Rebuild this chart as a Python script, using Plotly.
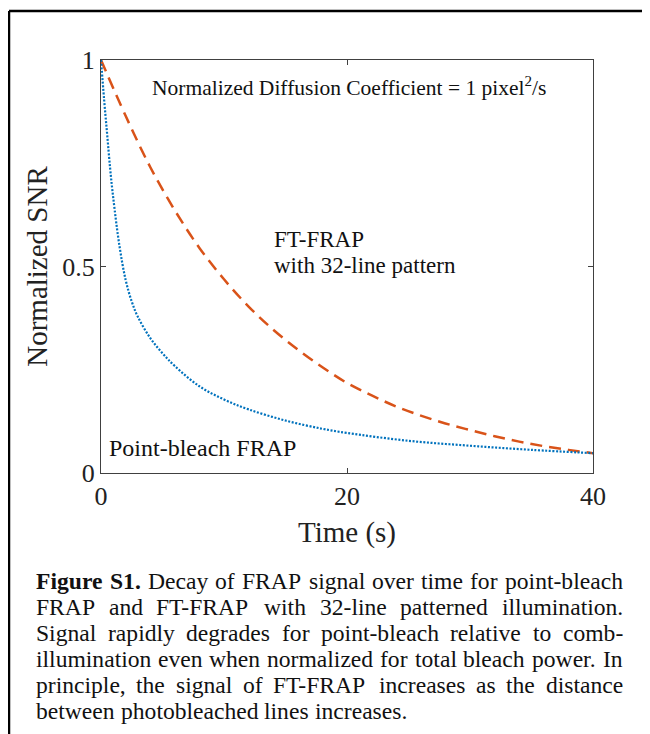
import plotly.graph_objects as go

# ---------------- data ----------------
t_point = [0, 0.25, 0.5, 0.75, 1.0, 1.5, 2, 2.5, 3, 4, 5, 6, 8, 10, 12, 15, 18, 20, 25, 30, 35, 40]
snr_point = [1.0, 0.905, 0.82, 0.735, 0.665, 0.55, 0.468, 0.415, 0.378, 0.327, 0.290, 0.259,
             0.210, 0.178, 0.154, 0.127, 0.107, 0.097, 0.078, 0.066, 0.056, 0.048]

t_ft = [0, 2, 4, 6, 8, 10, 12, 14, 16, 18, 20, 22, 24, 26, 28, 30, 32, 34, 36, 38, 40]
snr_ft = [1.0, 0.865, 0.741, 0.636, 0.545, 0.469, 0.403, 0.347, 0.299, 0.256, 0.218, 0.188,
          0.161, 0.139, 0.120, 0.104, 0.089, 0.076, 0.065, 0.056, 0.048]

x_ticks = [0, 20, 40]
y_ticks = [0, 0.5, 1]
y_ticklabels = ["0", "0.5", "1"]

caption_lines = [
    "Figure S1. Decay of FRAP signal over time for point-bleach",
    "FRAP and FT-FRAP with 32-line patterned illumination.",
    "Signal rapidly degrades for point-bleach relative to comb-",
    "illumination even when normalized for total bleach power. In",
    "principle, the signal of FT-FRAP increases as the distance",
    "between photobleached lines increases.",
]

# ---------------- layout geometry (reference pixels) ----------------
PAGE_OFF = 8                      # page body margin of the viewer
W, H = 650 - PAGE_OFF, 734 - PAGE_OFF
L, R, T, B = 101, 593, 60, 473    # plot box in reference pixels
SERIF = "Liberation Serif"

def px_x(px):
    return (px - L) / (R - L)

def px_y(py):
    return (B - py) / (B - T)

fig = go.Figure()
fig.add_trace(go.Scatter(x=t_ft, y=snr_ft, mode="lines", line_shape="spline",
                         line=dict(color="#D95319", width=2.5, dash="12px,7px"),
                         showlegend=False, hoverinfo="skip"))
fig.add_trace(go.Scatter(x=t_point, y=snr_point, mode="lines", line_shape="spline",
                         line=dict(color="#0072BD", width=2.2, dash="2px,1.6px"),
                         showlegend=False, hoverinfo="skip"))

axis_col = "#404040"
fig.update_xaxes(range=[0, 40], tickvals=x_ticks, ticktext=[str(v) for v in x_ticks],
                 ticks="inside", ticklen=5, tickcolor=axis_col, tickwidth=1,
                 showline=True, linecolor=axis_col, linewidth=1.2, mirror="ticks",
                 showgrid=False, zeroline=False,
                 tickfont=dict(family=SERIF, size=26, color="#222"),
                 title=dict(text="Time (s)", font=dict(family=SERIF, size=29, color="#222"), standoff=11))
fig.update_yaxes(range=[0, 1], tickvals=y_ticks, ticktext=y_ticklabels,
                 ticks="inside", ticklen=5, tickcolor=axis_col, tickwidth=1,
                 showline=True, linecolor=axis_col, linewidth=1.2, mirror="ticks",
                 showgrid=False, zeroline=False,
                 tickfont=dict(family=SERIF, size=26, color="#222"),
                 title=dict(text="Normalized SNR", font=dict(family=SERIF, size=29, color="#222"), standoff=6))

annotations = []

def add_text(text, px, py_center, size, bold=False):
    annotations.append(dict(text=("<b>%s</b>" % text) if bold else text,
                            x=px_x(px), y=px_y(py_center), xref="paper", yref="paper",
                            xanchor="left", yanchor="middle", showarrow=False,
                            borderpad=0, borderwidth=0,
                            font=dict(family=SERIF, size=size, color="#111")))

add_text("Normalized Diffusion Coefficient = 1 pixel<sup>2</sup>/s", 152, 86, 21.5)
add_text("FT-FRAP", 274, 239, 23)
add_text("with 32-line pattern", 274, 265, 23)
add_text("Point-bleach FRAP", 109, 448, 24)

# ---------------- justified caption ----------------
REG = {' ': 250, '(': 333, ')': 333, ',': 250, '-': 333, '.': 250, '/': 278, '=': 564,
       'A': 722, 'C': 667, 'D': 722, 'F': 556, 'I': 333, 'N': 722, 'P': 556, 'R': 667,
       'S': 556, 'T': 611,
       'a': 444, 'b': 500, 'c': 444, 'd': 500, 'e': 444, 'f': 333, 'g': 500, 'h': 500,
       'i': 278, 'j': 278, 'k': 500, 'l': 278, 'm': 778, 'n': 500, 'o': 500, 'p': 500,
       'q': 500, 'r': 333, 's': 389, 't': 278, 'u': 500, 'v': 500, 'w': 722, 'x': 500,
       'y': 500, 'z': 444}
BOLD = {'F': 611, 'i': 278, 'g': 500, 'u': 556, 'r': 444, 'e': 444, 'S': 556, '1': 500, '.': 250}
CAP_FS = 23.6
CAP_L, CAP_R = 36, 623
CAP_Y0, CAP_DY = 581, 26

def wwidth(word, bold):
    tab = BOLD if bold else REG
    return sum(tab.get(c, 500) for c in word) / 1000 * CAP_FS

for i, line in enumerate(caption_lines):
    words = line.split(" ")
    bold_flags = [(i == 0 and j < 2) for j in range(len(words))]
    widths = [wwidth(w, b) for w, b in zip(words, bold_flags)]
    last = (i == len(caption_lines) - 1)
    if last:
        gap = 0.25 * CAP_FS
    else:
        gap = (CAP_R - CAP_L - sum(widths)) / (len(words) - 1)
    x = CAP_L
    yc = CAP_Y0 + i * CAP_DY
    for w, b, wd in zip(words, bold_flags, widths):
        add_text(w, x, yc, CAP_FS, bold=b)
        x += wd + gap

# outer frame (left and top edges of the figure box)
shapes = [
    dict(type="line", xref="paper", yref="paper", x0=px_x(9), x1=px_x(9), y0=px_y(11), y1=px_y(760),
         line=dict(color="black", width=2.5)),
    dict(type="line", xref="paper", yref="paper", x0=px_x(9), x1=px_x(680), y0=px_y(11), y1=px_y(11),
         line=dict(color="black", width=2.5)),
]

fig.update_layout(width=W, height=H,
                  margin=dict(l=L - PAGE_OFF, r=W - (R - PAGE_OFF), t=T - PAGE_OFF,
                              b=H - (B - PAGE_OFF), autoexpand=False),
                  paper_bgcolor="white", plot_bgcolor="white",
                  annotations=annotations, shapes=shapes)
fig.write_html("out.html")
